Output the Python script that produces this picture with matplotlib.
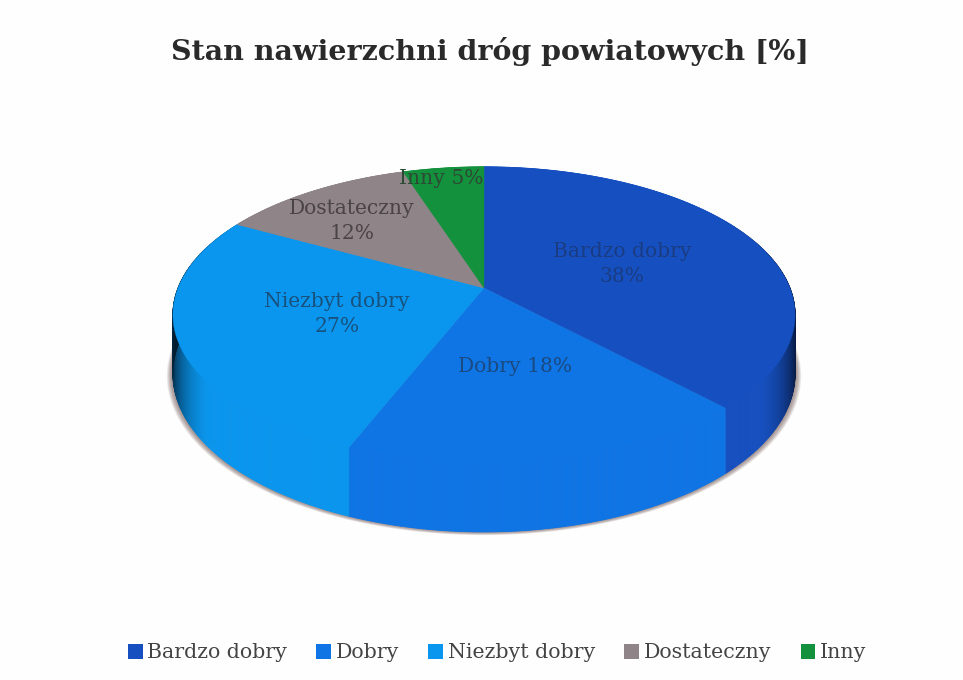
"""
Stan nawierzchni drog powiatowych: pie with a fake 3D perspective.
"""
import numpy as np
import matplotlib
matplotlib.use("Agg")
import matplotlib.pyplot as plt
from matplotlib.patches import Polygon, Patch
from matplotlib.collections import PolyCollection
from matplotlib.colors import to_rgb

# ── Data ───────────────────────────────────────────────────────────────────
categories = ["Bardzo dobry", "Dobry", "Niezbyt dobry", "Dostateczny", "Inny"]
values = [38, 18, 27, 12, 5]
colors = ["#1650c0", "#0f74e4", "#0a96ee", "#8f8488", "#13913c"]
slice_labels = ["Bardzo dobry\n38%", "Dobry 18%", "Niezbyt dobry\n27%",
                "Dostateczny\n12%", "Inny 5%"]
title = "Stan nawierzchni dróg powiatowych [%]"

# ── Layout geometry (pixels of the 963x680 picture) ────────────────────────
APEX_X, APEX_Y = 484, 288
RADIUS = 306
TILT = 143
PERSP = 0.18
WALL = 57
label_pos = [(622, 264), (515, 366), (337, 314), (352, 221), (441, 178)]
label_col = ["#1a3c82", "#1a4a82", "#17527f", "#4a4446", "#2c4a34"]
FONT = "DejaVu Serif"
BG_COLOR = "#fefefe"


def project(theta, drop=0.0):
    """Theta runs clockwise from the back of the disc."""
    x, y = np.sin(theta), np.cos(theta)
    w = 1 + PERSP * y
    return APEX_X + RADIUS * x / w, APEX_Y - TILT * y / w + drop / w


def shade(theta):
    # wall goes dark only close to the left and right ends
    x = abs(np.sin(theta))
    if x <= 0.8:
        return 1.0
    return max(1 - 0.8 * ((x - 0.8) / 0.2) ** 1.6, 0.2)


fig = plt.figure(figsize=(9.63, 6.8), dpi=100, facecolor=BG_COLOR)
ax = fig.add_axes([0, 0, 1, 1])
ax.set_xlim(0, 963)
ax.set_ylim(680, 0)
ax.axis("off")

fractions = np.array(values) / sum(values)
edges = np.concatenate([[0], np.cumsum(fractions)]) * 2 * np.pi

# ── Soft shadow under the disc ─────────────────────────────────────────────
t = np.linspace(0, 2 * np.pi, 361)
for grow in np.linspace(6, 0.5, 12):
    sx, sy = project(t, WALL + grow * 0.45)
    sx = APEX_X + (sx - APEX_X) * (1 + grow / RADIUS)
    ax.add_patch(Polygon(np.column_stack([sx, sy]), closed=True,
                         facecolor="#6b5350", edgecolor="none", alpha=0.08))

# ── Side wall ──────────────────────────────────────────────────────────────
quads, quad_cols = [], []
for i, col in enumerate(colors):
    rgb = np.array(to_rgb(col))
    steps = np.linspace(edges[i], edges[i + 1], max(int(values[i] * 8), 4))
    for a, b in zip(steps[:-1], steps[1:]):
        xa, ya = project(a)
        xb, yb = project(b)
        xa2, ya2 = project(a, WALL)
        xb2, yb2 = project(b, WALL)
        quads.append([(xa, ya), (xb, yb), (xb2, yb2), (xa2, ya2)])
        quad_cols.append(rgb * shade((a + b) / 2))
ax.add_collection(PolyCollection(quads, facecolors=quad_cols,
                                 edgecolors=quad_cols, linewidths=0.6))

# ── Top surface ────────────────────────────────────────────────────────────
for i, col in enumerate(colors):
    arc = np.linspace(edges[i], edges[i + 1], 200)
    px, py = project(arc)
    pts = np.vstack([[APEX_X, APEX_Y], np.column_stack([px, py])])
    ax.add_patch(Polygon(pts, closed=True, facecolor=col, edgecolor=col,
                         linewidth=0.3))

# ── Text ───────────────────────────────────────────────────────────────────
for lab, (lx, ly), lc in zip(slice_labels, label_pos, label_col):
    ax.text(lx, ly, lab, ha="center", va="center", fontsize=14.6,
            family=FONT, color=lc, linespacing=1.36)

ax.text(490, 51, title, ha="center", va="center", fontsize=20.5,
        family=FONT, fontweight="bold", color="#2a2a2a")

handles = [Patch(facecolor=c, edgecolor="none") for c in colors]
leg = ax.legend(handles, categories, loc="center", ncol=5,
                bbox_to_anchor=(497 / 963, 1 - 653 / 680), frameon=False,
                prop={"family": FONT, "size": 14.8}, handlelength=0.72,
                handleheight=0.72, handletextpad=0.22, columnspacing=1.43,
                labelcolor="#444444")

fig.savefig("out.png", dpi=100, facecolor=BG_COLOR)
